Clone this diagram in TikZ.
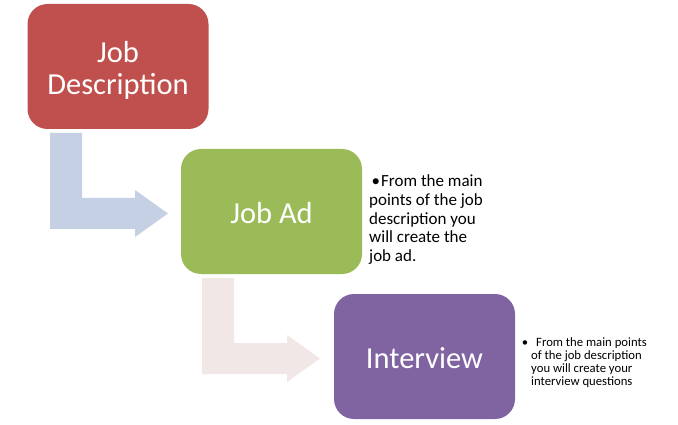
\documentclass[tikz,border=0pt]{standalone}
\usepackage{fontspec}
\setmainfont{Carlito}
\definecolor{boxred}{HTML}{C0504D}
\definecolor{boxgreen}{HTML}{9BBB59}
\definecolor{boxpurple}{HTML}{8064A2}
\definecolor{arrowblue}{HTML}{C6D0E4}
\definecolor{arrowpink}{HTML}{F2E7E7}
\tikzset{
  stagebox/.style={rounded corners=20pt, minimum width=181pt, minimum height=125pt,
    inner sep=0pt},
  stagetext/.style={inner sep=0pt, text=white, align=center, font=\fontsize{30.5}{32}\selectfont},
  notebig/.style={anchor=base west, align=left, inner sep=0pt, font=\fontsize{17}{18.75}\selectfont},
  notesmall/.style={anchor=base west, align=left, inner sep=0pt, font=\fontsize{12.7}{12.7}\selectfont}
}
\begin{document}
\begin{tikzpicture}[x=1pt,y=-1pt]
\useasboundingbox (0,0) rectangle (678,425);
% bent arrows
\fill[arrowblue] (50,133) -- (82,133) -- (82,198) -- (135,198) -- (135,190) -- (168,213.5)
  -- (135,237) -- (135,229) -- (50,229) -- cycle;
\fill[arrowpink] (202,278) -- (234,278) -- (234,343) -- (287,343) -- (287,335) -- (320,358.5)
  -- (287,382) -- (287,374) -- (202,374) -- cycle;
% boxes
\node[stagebox, fill=boxred] (jd) at (118,66.5) {};
\node[stagebox, fill=boxgreen] (ad) at (271.5,211.5) {};
\node[stagebox, fill=boxpurple] (iv) at (424.5,356.5) {};
\node[stagetext] (jdt) at ([yshift=-4pt]jd.center) {Job\\Description};
\node[stagetext] (adt) at ([yshift=-2pt]ad.center) {Job Ad};
\node[stagetext] (ivt) at ([yshift=-2pt]iv.center) {Interview};
% notes
\node[notebig] (adnote) at (369,261.7) {\makebox[12pt][r]{\textbullet\hspace{1pt}}From the main\\points of the job\\description you\\will create the\\job ad.};
\node[notesmall] (ivnote) at (531,385) {\makebox[0pt][r]{\textbullet\hspace{3pt}}\hspace{5pt}From the main points\\of the job description\\you will create your\\interview questions};
\end{tikzpicture}
\end{document}
